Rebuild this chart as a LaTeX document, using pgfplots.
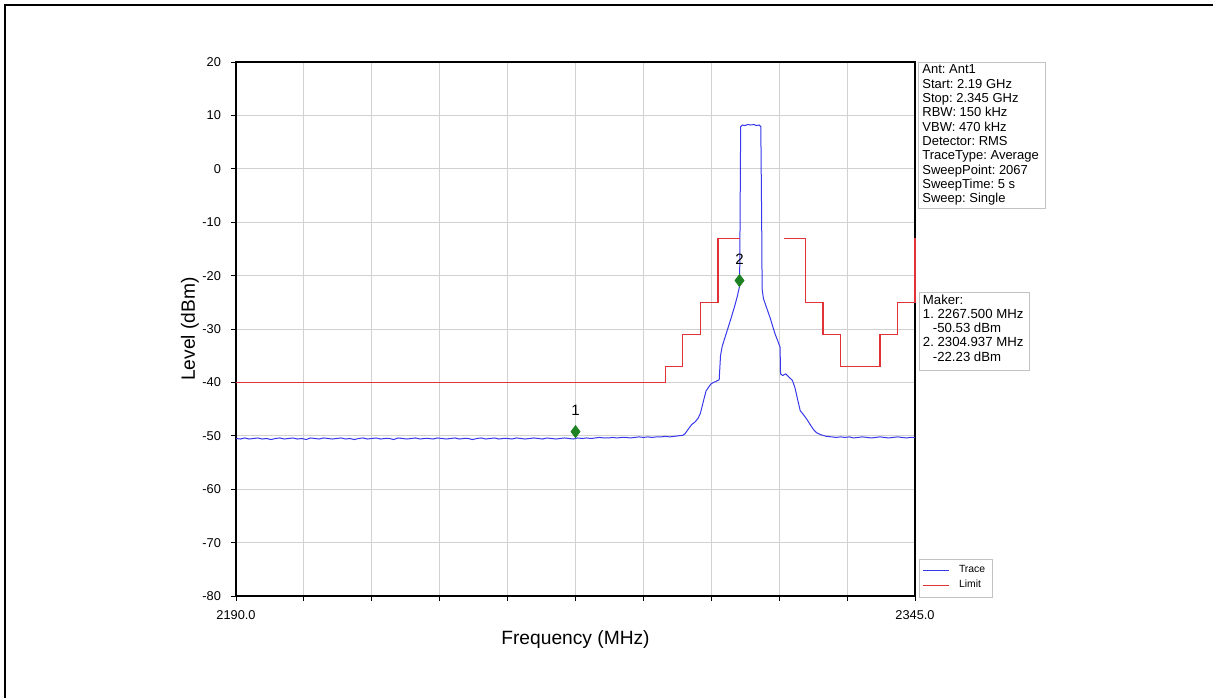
\documentclass[border=0pt]{standalone}
\usepackage{pgfplots}
\pgfplotsset{compat=1.18}
\usepackage{fontspec}
\setmainfont{Liberation Sans}
\frenchspacing
\definecolor{traceblue}{RGB}{55,55,235}
\definecolor{limitred}{RGB}{225,50,55}
\definecolor{mkgreen}{RGB}{30,130,35}
\definecolor{boxgray}{RGB}{195,195,195}
\begin{document}
\begin{tikzpicture}
\path[use as bounding box] (0,0) rectangle (606.5pt,-349pt);
\begin{axis}[
  at={(118pt,-298pt)}, anchor=south west,
  scale only axis, width=339.5pt, height=267pt,
  xmin=2190, xmax=2345, ymin=-80, ymax=20,
  xtick={2190,2205.5,2221,2236.5,2252,2267.5,2283,2298.5,2314,2329.5,2345},
  xticklabels={2190.0,,,,,,,,,,2345.0},
  ytick={-80,-70,-60,-50,-40,-30,-20,-10,0,10,20},
  yticklabels={-80,-70,-60,-50,-40,-30,-20,-10,0,10,20},
  tick pos=left, tick align=outside, major tick length=2.5pt,
  tick style={black, line width=0.5pt},
  grid=major, major grid style={black!18, line width=0.45pt},
  axis line style={black, line width=0.6pt},
  tick label style={font=\fontsize{6.4}{7.5}\selectfont},
  yticklabel style={xshift=-1.5pt},
  xticklabel style={yshift=-1.2pt},
  xlabel={Frequency (MHz)}, ylabel={Level (dBm)},
  label style={font=\fontsize{9.6}{11}\selectfont},
  xlabel style={at={(axis description cs:0.5,-0.0824)}, anchor=center},
  ylabel style={at={(axis description cs:-0.0677,0.5)}, anchor=center},
  unbounded coords=jump,
  clip=false,
  legend style={at={(1,0)}, anchor=south west, xshift=2pt, yshift=-0.8pt,
    draw=boxgray, line width=0.4pt, font=\fontsize{5.2}{6}\selectfont,
    inner xsep=1.5pt, inner ysep=1.2pt, row sep=-1.6pt,
    /tikz/every odd column/.append style={column sep=2.5pt}},
  legend cell align=left,
  legend image code/.code={\draw[#1, line width=0.8pt] (0pt,0pt) -- (13pt,0pt);},
]
\addplot[traceblue, line width=0.5pt] coordinates {
(2190.0,-50.5) (2191,-50.6) (2192,-50.4) (2193,-50.6) (2194,-50.5) (2195,-50.4)
(2196,-50.6) (2197,-50.5) (2198,-50.7) (2199,-50.5) (2200,-50.4) (2201,-50.6)
(2202,-50.5) (2203,-50.4) (2204,-50.6) (2205,-50.5) (2206,-50.7) (2207,-50.4)
(2208,-50.5) (2209,-50.6) (2210,-50.4) (2211,-50.5) (2212,-50.6) (2213,-50.5)
(2214,-50.4) (2215,-50.6) (2216,-50.5) (2217,-50.7) (2218,-50.5) (2219,-50.4)
(2220,-50.6) (2221,-50.5) (2222,-50.4) (2223,-50.6) (2224,-50.5) (2225,-50.5)
(2226,-50.7) (2227,-50.4) (2228,-50.5) (2229,-50.6) (2230,-50.5) (2231,-50.4)
(2232,-50.6) (2233,-50.5) (2234,-50.5) (2235,-50.6) (2236,-50.4) (2237,-50.5)
(2238,-50.6) (2239,-50.5) (2240,-50.4) (2241,-50.6) (2242,-50.5) (2243,-50.5)
(2244,-50.7) (2245,-50.5) (2246,-50.4) (2247,-50.6) (2248,-50.5) (2249,-50.4)
(2250,-50.6) (2251,-50.5) (2252,-50.5) (2253,-50.6) (2254,-50.4) (2255,-50.5)
(2256,-50.6) (2257,-50.5) (2258,-50.4) (2259,-50.5) (2260,-50.6) (2261,-50.4)
(2262,-50.5) (2263,-50.6) (2264,-50.5) (2265,-50.4) (2266,-50.5) (2267,-50.6)
(2268,-50.4) (2269,-50.5) (2270,-50.4) (2271,-50.5) (2272,-50.4) (2273,-50.3)
(2274,-50.4) (2275,-50.4) (2276,-50.3) (2277,-50.4) (2278,-50.3) (2279,-50.3)
(2280,-50.4) (2281,-50.3) (2282,-50.2) (2283,-50.3) (2284,-50.2) (2285,-50.3)
(2286,-50.2) (2287,-50.2) (2288,-50.1) (2289,-50.2) (2290,-50.1) (2291,-50.0)
(2292,-49.9) (2292.5,-49.6) (2293.2,-48.8) (2294.0,-47.9) (2294.8,-47.4)
(2295.5,-46.7) (2296.0,-45.8) (2296.7,-43.5) (2297.3,-41.6) (2297.8,-41.0)
(2298.4,-40.3) (2299.0,-40.0) (2299.6,-39.8) (2300.3,-39.5) (2300.6,-35.0)
(2301.0,-33.2) (2302.0,-30.6) (2303.0,-28.0) (2303.8,-25.8) (2304.4,-24.0)
(2304.9,-22.2) (2305.0,-18.0) (2305.1,-5.0) (2305.2,7.9) (2305.6,8.2)
(2306.2,8.1) (2306.8,8.3) (2307.5,8.2) (2308.2,8.3) (2308.8,8.1) (2309.4,8.2)
(2309.8,7.9) (2310.0,-10.0) (2310.1,-22.5) (2310.4,-24.3) (2311.2,-26.2)
(2312.0,-28.1) (2313.0,-30.8) (2313.8,-32.5) (2314.2,-33.4) (2314.3,-38.4)
(2314.8,-38.7) (2315.5,-38.4) (2316.2,-39.0) (2317.0,-39.6) (2317.6,-41.0)
(2318.2,-43.2) (2318.8,-45.3) (2319.5,-46.0) (2320.3,-46.9) (2321.0,-47.8)
(2321.8,-48.8) (2322.5,-49.4) (2323.5,-49.8) (2324.8,-50.1) (2326,-50.2)
(2327,-50.3) (2328,-50.2) (2329,-50.3) (2330,-50.2) (2331,-50.4) (2332,-50.3)
(2333,-50.2) (2334,-50.3) (2335,-50.4) (2336,-50.3) (2337,-50.2) (2338,-50.3)
(2339,-50.4) (2340,-50.3) (2341,-50.2) (2342,-50.3) (2343,-50.4) (2344,-50.3)
(2345,-50.3)
};
\addlegendentry{Trace}
\addplot[limitred, line width=0.65pt] coordinates {
(2190,-40) (2288,-40) (2288,-37) (2292,-37) (2292,-31) (2296,-31) (2296,-25)
(2300,-25) (2300,-13) (2305,-13) (2310,nan)
(2315,-13) (2320,-13) (2320,-25) (2324,-25) (2324,-31) (2328,-31) (2328,-37)
(2337,-37) (2337,-31) (2341,-31) (2341,-25) (2345,-25) (2345,-13)
};
\addlegendentry{Limit}
\addplot[forget plot, only marks, mark=diamond*, mark size=3pt, mkgreen,
  mark options={yshift=3.5pt},
  point meta=explicit symbolic, nodes near coords,
  every node near coord/.append style={font=\fontsize{7.5}{8}\selectfont, text=black, inner sep=0pt, anchor=south, yshift=8pt}]
  table[meta=label] {
x y label
2267.5 -50.53 1
2304.937 -22.23 2
};
\end{axis}
\begin{scope}[x=0.5pt,y=-0.5pt]
\draw[black, line width=1pt] (5,698) -- (5,5) -- (1213,5);
\draw[boxgray, line width=0.45pt, fill=white] (918,62) rectangle (1045,208);
\node[anchor=north west, align=left, inner sep=0pt, font=\fontsize{6.5}{7.15}\selectfont] at (922,64.6)
 {Ant: Ant1\\Start: 2.19 GHz\\Stop: 2.345 GHz\\RBW: 150 kHz\\VBW: 470 kHz\\Detector: RMS\\TraceType: Average\\SweepPoint: 2067\\SweepTime: 5 s\\Sweep: Single};
\draw[boxgray, line width=0.45pt, fill=white] (919,292) rectangle (1029,370);
\node[anchor=north west, align=left, inner sep=0pt, font=\fontsize{6.6}{7.1}\selectfont] at (922.5,294.3)
 {Maker:\\1. 2267.500 MHz\\\hspace*{5pt}-50.53 dBm\\2. 2304.937 MHz\\\hspace*{5pt}-22.23 dBm};
\end{scope}
\end{tikzpicture}
\end{document}
